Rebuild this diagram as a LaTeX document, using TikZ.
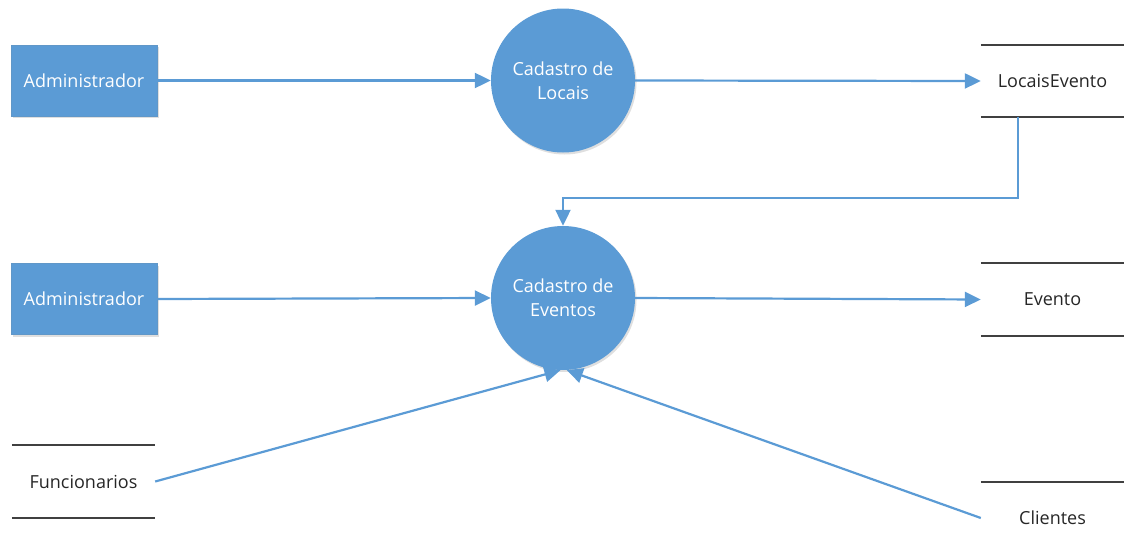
\documentclass[tikz,border=0pt]{standalone}
\usepackage{fontspec}
\setmainfont{Open Sans}
\usetikzlibrary{arrows.meta,shadows}
\definecolor{dfdblue}{HTML}{5B9BD5}
\definecolor{storegray}{HTML}{404040}
\begin{document}
\begin{tikzpicture}[x=1pt,y=-1pt,
  lbl/.style={font=\fontsize{18}{24}\selectfont},
  entity/.style={lbl, rectangle, fill=dfdblue, draw=dfdblue!85!gray, line width=0.6pt,
    minimum width=146pt, minimum height=71pt, inner sep=0pt, text=white,
    drop shadow={opacity=0.25, shadow xshift=1.5pt, shadow yshift=-2pt}},
  process/.style={lbl, circle, fill=dfdblue, minimum size=144pt, inner sep=0pt,
    text=white, align=center,
    drop shadow={opacity=0.25, shadow xshift=1.5pt, shadow yshift=-2pt}},
  store/.style={lbl, rectangle, minimum width=143pt, minimum height=72pt, inner sep=0pt, text=black!85},
  flow/.style={draw=dfdblue, line width=2.2pt, -{Triangle[length=16pt,width=15pt]}},
  storeline/.style={draw=storegray, line width=1.8pt}]
\useasboundingbox (0,0) rectangle (1124,554);

% external entities
\node[entity] (adm1) at (84,80.5) {Administrador};
\node[entity] (adm2) at (84,299) {Administrador};

% processes
\node[process] (c1) at (563,80.5) {Cadastro de\\Locais};
\node[process] (c2) at (563,298) {Cadastro de\\Eventos};

% data stores
\node[store] (le) at (1052.5,81) {LocaisEvento};
\node[store] (ev) at (1052.5,299.5) {Evento};
\node[store] (fu) at (83.5,481.5) {Funcionarios};
\node[store] (cl) at (1052.5,518) {Clientes};

\draw[storeline] (le.north west) -- (le.north east);
\draw[storeline] (le.south west) -- (le.south east);
\draw[storeline] (ev.north west) -- (ev.north east);
\draw[storeline] (ev.south west) -- (ev.south east);
\draw[storeline] (fu.north west) -- (fu.north east);
\draw[storeline] (fu.south west) -- (fu.south east);
\draw[storeline] (cl.north west) -- (cl.north east);

% flows
\draw[flow] (adm1.east) -- (c1.west);
\draw[flow] (c1.east) -- (le.west);
\draw[flow] (adm2.east) -- (c2.west);
\draw[flow] (c2.east) -- (ev.west);
\coordinate (turn) at (563,198);
\draw[flow] ([xshift=37pt]le.south west) |- (turn) -- (c2.north);
\draw[flow] (fu.east) -- (c2.-92.5);
\draw[flow] (cl.west) -- (c2.-87);
\end{tikzpicture}
\end{document}
